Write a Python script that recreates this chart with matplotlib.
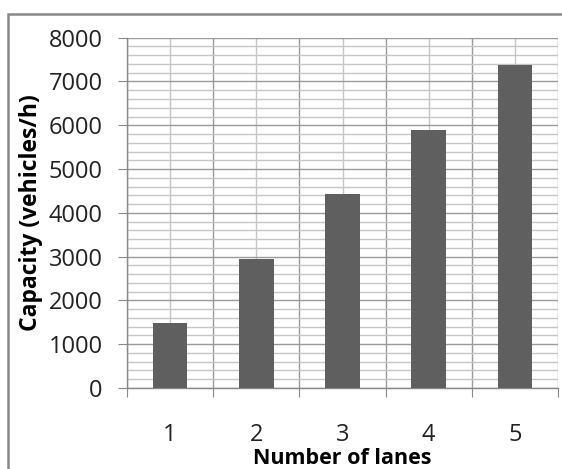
import numpy as np
import matplotlib
matplotlib.use('Agg')
import matplotlib.pyplot as plt
from matplotlib.patches import Rectangle

plt.rcParams['font.family'] = ['Open Sans', 'DejaVu Sans']

# data
lanes = [1, 2, 3, 4, 5]
capacity = [1475, 2950, 4425, 5900, 7375]

fig = plt.figure(figsize=(5.62, 4.69), dpi=100)
ax = fig.add_axes([127 / 562, 81 / 469, 431 / 562, 350.3 / 469])

ax.bar(lanes, capacity, width=0.4, color='#5f5f5f', zorder=3)

ax.set_xlim(0.5, 5.5)
ax.set_ylim(0, 8000)

# y ticks: major every 1000, minor every 200
ax.set_yticks(np.arange(0, 8001, 1000))
ax.set_yticks(np.arange(0, 8001, 200), minor=True)

# x: major ticks on category boundaries, labels at centres
ax.set_xticks(np.arange(0.5, 5.6, 1))
ax.set_xticklabels([])
ax.set_xticks(lanes, minor=True)
ax.set_xticklabels([str(v) for v in lanes], minor=True)

ax.tick_params(axis='y', which='major', length=6.5, color='#888888', pad=11,
               labelsize=17, labelcolor='#222222')
ax.tick_params(axis='y', which='minor', length=0)
ax.tick_params(axis='x', which='major', length=6.5, color='#888888')
ax.tick_params(axis='x', which='minor', length=0, pad=25,
               labelsize=17, labelcolor='#222222')

ax.grid(which='major', color='#9a9a9a', linewidth=1.0, zorder=0)
ax.grid(which='minor', color='#c6c6c6', linewidth=1.0, zorder=0)
ax.set_axisbelow(True)

for s in ['top', 'right']:
    ax.spines[s].set_visible(False)
for s in ['left', 'bottom']:
    ax.spines[s].set_color('#888888')
    ax.spines[s].set_linewidth(1.0)

ax.set_xlabel('Number of lanes', fontsize=15.5, fontweight='bold', labelpad=1)
ax.set_ylabel('Capacity (vehicles/h)', fontsize=16.5, fontweight='bold', labelpad=4)

# outer chart border
fig.patches.append(Rectangle((8 / 562, -0.05), 1.2, 0.05 + 455 / 469,
                             transform=fig.transFigure, fill=False,
                             edgecolor='#888888', linewidth=1.8))

fig.savefig('out.png', dpi=100)
